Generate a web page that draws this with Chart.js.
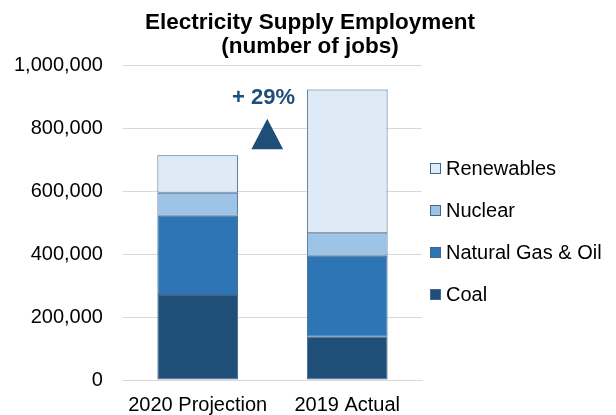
<!DOCTYPE html>
<html>
<head>
<meta charset="utf-8">
<script src="https://cdn.jsdelivr.net/npm/chart.js@4.4.1/dist/chart.umd.min.js"></script>
<style>
  html, body { margin: 0; padding: 0; background: #fff; }
  #wrap { width: 616px; height: 415px; position: relative; }
  #legend {
    position: absolute; left: 430px; top: 147px;
    font: 20px "Liberation Sans", Arial, sans-serif; color: #000;
  }
  #legend div { height: 42px; display: flex; align-items: center; white-space: nowrap; }
  #legend span.box {
    width: 11px; height: 11px; box-sizing: border-box;
    border: 1px solid #41678f; margin-right: 5px; flex: none;
  }
</style>
</head>
<body>
<div id="wrap"><canvas id="chart"></canvas><div id="legend"></div></div>
<script>
// categories and series (jobs)
const categories = ['2020 Projection', '2019 Actual'];
const coal = [270000, 137000];
const gasOil = [252000, 258000];
const nuclear = [73000, 71000];
const renewables = [119000, 457000];

const titleLines = ['Electricity Supply Employment', '(number of jobs)'];
const changeLabel = '+ 29%';
// annotation position, in axis units (category index, jobs)
const changeAt = { textX: 0.44, arrowX: 0.465, textY: 895000, tipY: 830000, baseY: 733000 };

const FONT = '"Liberation Sans", Arial, sans-serif';
const NAVY = '#1f4e79';
const EDGE = '#41678f';
const LEGEND_ROOM = 194; // space kept on the right for the html legend

// draws the "+ 29%" label and the up triangle between the bars
const changeMarker = {
    id: 'changeMarker',
    afterDatasetsDraw(chart) {
        const { ctx, scales: { x, y } } = chart;
        const ax = x.getPixelForValue(changeAt.arrowX);
        const tip = y.getPixelForValue(changeAt.tipY);
        const base = y.getPixelForValue(changeAt.baseY);
        const half = (base - tip) * 0.52;
        ctx.save();
        ctx.fillStyle = NAVY;
        ctx.beginPath();
        ctx.moveTo(ax, tip);
        ctx.lineTo(ax + half, base);
        ctx.lineTo(ax - half, base);
        ctx.closePath();
        ctx.fill();
        ctx.font = 'bold 22px ' + FONT;
        ctx.textAlign = 'center';
        ctx.textBaseline = 'middle';
        ctx.fillText(changeLabel, x.getPixelForValue(changeAt.textX), y.getPixelForValue(changeAt.textY));
        ctx.restore();
    }
};

const ds = (label, data, color) => ({
    label, data,
    backgroundColor: color,
    borderColor: EDGE,
    borderWidth: 1,
    borderSkipped: false,
    barPercentage: 0.54,
    categoryPercentage: 1
});

const chart = new Chart(document.getElementById('chart').getContext('2d'), {
    type: 'bar',
    data: {
        labels: categories,
        datasets: [
            ds('Coal', coal, '#1f4e79'),
            ds('Natural Gas & Oil', gasOil, '#2e75b6'),
            ds('Nuclear', nuclear, '#9dc3e6'),
            ds('Renewables', renewables, '#deebf7')
        ]
    },
    options: {
        responsive: true,
        maintainAspectRatio: false,
        animation: false,
        layout: { padding: { left: 4, right: 0, top: 4, bottom: 0 } },
        plugins: {
            title: {
                display: true,
                text: titleLines,
                color: '#000',
                font: { family: FONT, size: 22.5, weight: 'bold', lineHeight: 1.07 },
                padding: { top: 7, bottom: 6 }
            },
            legend: { display: false },
            tooltip: { enabled: false }
        },
        scales: {
            x: {
                stacked: true,
                grid: { display: false, tickLength: 15 },
                border: { color: '#d9d9d9' },
                ticks: { color: '#000', font: { family: FONT, size: 20, lineHeight: 0.6 }, padding: 4 },
                afterFit: s => { s.paddingRight = LEGEND_ROOM; }
            },
            y: {
                stacked: true,
                min: 0,
                max: 1000000,
                grid: { color: '#d9d9d9', tickLength: 10, tickColor: 'rgba(0,0,0,0)' },
                border: { display: false },
                ticks: {
                    stepSize: 200000,
                    color: '#000',
                    padding: 10,
                    font: { family: FONT, size: 20 },
                    callback: v => v.toLocaleString('en-US')
                }
            }
        }
    },
    plugins: [changeMarker]
});

// legend, top to bottom in stacking order
const legendEl = document.getElementById('legend');
chart.data.datasets.slice().reverse().forEach(d => {
    const row = document.createElement('div');
    const box = document.createElement('span');
    box.className = 'box';
    box.style.background = d.backgroundColor;
    row.appendChild(box);
    row.appendChild(document.createTextNode(d.label));
    legendEl.appendChild(row);
});
</script>
</body>
</html>
